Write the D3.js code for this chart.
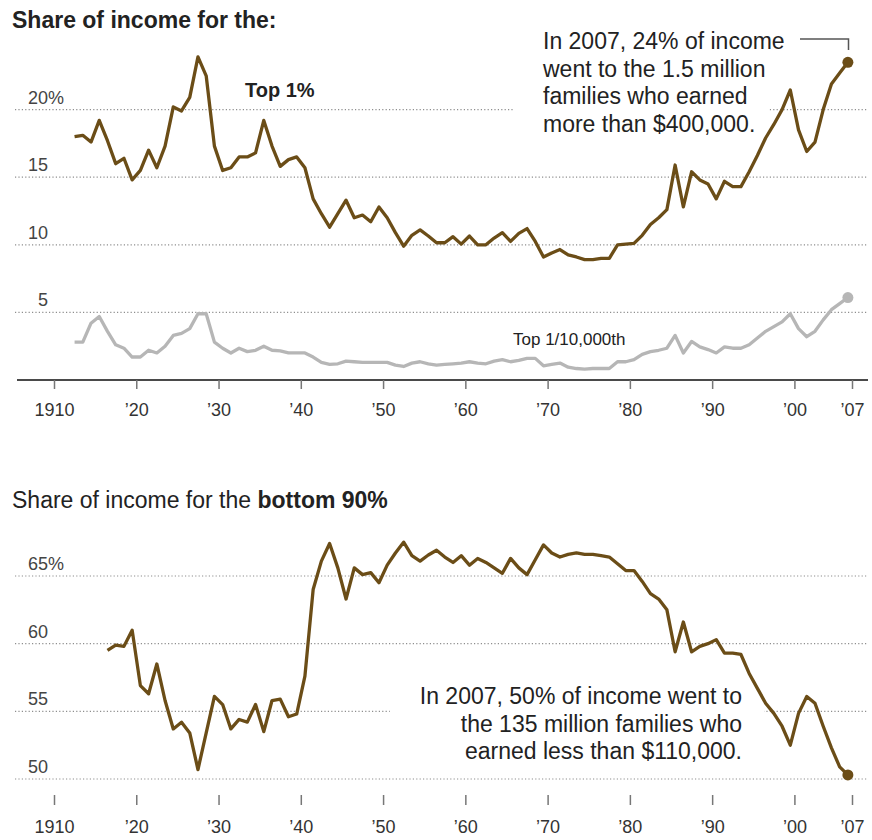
<!DOCTYPE html>
<html>
<head>
<meta charset="utf-8">
<script src="https://cdn.jsdelivr.net/npm/d3@7"></script>
<style>
  body { margin: 0; background: #fff; }
  svg { display: block; font-family: "Liberation Sans", Arial, Helvetica, sans-serif; }
</style>
</head>
<body>
<svg id="chart"></svg>
<script>
// share of income, percent, one value per year
const top1FirstYear = 1913;
const top1Values = [
  18.0, 18.1, 17.6, 19.2, 17.7, 16.0, 16.4, 14.8, 15.5, 17.0,
  15.7, 17.3, 20.2, 19.9, 20.9, 23.9, 22.5, 17.3, 15.5, 15.7,
  16.5, 16.5, 16.8, 19.2, 17.3, 15.8, 16.3, 16.5, 15.7, 13.4,
  12.3, 11.3, 12.3, 13.3, 12.0, 12.2, 11.7, 12.8, 12.0, 10.9,
  9.9, 10.7, 11.1, 10.65, 10.15, 10.15, 10.6, 10.05, 10.65, 10.0,
  10.0, 10.5, 10.9, 10.25, 10.85, 11.2, 10.25, 9.1, 9.4, 9.65,
  9.25, 9.1, 8.9, 8.9, 9.0, 9.0, 10.0, 10.05, 10.1, 10.7,
  11.5, 12.0, 12.6, 15.9, 12.8, 15.4, 14.8, 14.5, 13.4, 14.7,
  14.3, 14.3, 15.4, 16.6, 17.9, 18.9, 20.0, 21.45, 18.5, 16.9,
  17.6, 20.0, 21.9, 22.7, 23.5,
];

const topTenThousandthFirstYear = 1913;
const topTenThousandthValues = [
  2.8, 2.8, 4.2, 4.7, 3.6, 2.6, 2.35, 1.7, 1.7, 2.2,
  2.0, 2.5, 3.3, 3.45, 3.8, 4.9, 4.9, 2.8, 2.35, 2.0,
  2.35, 2.1, 2.2, 2.5, 2.2, 2.15, 2.0, 2.0, 2.0, 1.7,
  1.3, 1.15, 1.2, 1.4, 1.35, 1.3, 1.3, 1.3, 1.3, 1.1,
  1.0, 1.25, 1.35, 1.2, 1.1, 1.15, 1.2, 1.25, 1.35, 1.25,
  1.2, 1.4, 1.5, 1.35, 1.45, 1.6, 1.6, 1.05, 1.15, 1.25,
  0.95, 0.85, 0.8, 0.85, 0.85, 0.85, 1.35, 1.35, 1.5, 1.9,
  2.1, 2.2, 2.35, 3.3, 2.0, 2.85, 2.45, 2.25, 2.0, 2.45,
  2.35, 2.35, 2.6, 3.1, 3.6, 3.95, 4.3, 4.9, 3.8, 3.2,
  3.6, 4.45, 5.2, 5.65, 6.1,
];

const bottom90FirstYear = 1917;
const bottom90Values = [
  59.5, 59.9, 59.8, 61.0, 56.9, 56.3, 58.5, 55.8, 53.7, 54.2,
  53.4, 50.7, 53.4, 56.1, 55.5, 53.7, 54.4, 54.2, 55.5, 53.5,
  55.8, 55.9, 54.6, 54.8, 57.6, 64.0, 66.1, 67.4, 65.6, 63.3,
  65.6, 65.1, 65.25, 64.5, 65.8, 66.7, 67.5, 66.5, 66.1, 66.55,
  66.9, 66.4, 66.0, 66.5, 65.8, 66.3, 66.0, 65.6, 65.2, 66.3,
  65.6, 65.1, 66.2, 67.3, 66.7, 66.4, 66.6, 66.7, 66.6, 66.6,
  66.5, 66.4, 65.9, 65.4, 65.4, 64.6, 63.7, 63.3, 62.5, 59.4,
  61.6, 59.4, 59.8, 60.0, 60.3, 59.3, 59.3, 59.2, 57.8, 56.7,
  55.6, 54.85, 53.9, 52.5, 54.85, 56.1, 55.6, 53.9, 52.3, 50.9,
  50.3,
];

const xTickYears = [1910, 1920, 1930, 1940, 1950, 1960, 1970, 1980, 1990, 2000, 2007];
const xTickLabels = ["1910", "’20", "’30", "’40", "’50", "’60", "’70", "’80", "’90", "’00", "’07"];

const topYTicks = [5, 10, 15, 20];
const bottomYTicks = [50, 55, 60, 65];

const topNote = [
  "In 2007, 24% of income",
  "went to the 1.5 million",
  "families who earned",
  "more than $400,000.",
];
const bottomNote = [
  "In 2007, 50% of income went to",
  "the 135 million families who",
  "earned less than $110,000.",
];

function toPoints(firstYear, values) {
  return values.map((v, i) => {
    return { year: firstYear + i, value: v };
  });
}

const width = 872;
const height = 840;

const brown = "#6b4d17";
const lightGrey = "#b6b6b6";
const gridColor = "#8e8e8e";
const textColor = "#222";

const svg = d3.select("#chart").attr("width", width).attr("height", height);

// data sits in the middle of each year, ticks mark the year start
const x = d3.scaleLinear().domain([1910.5, 2007.5]).range([54, 852]);
const yTop = d3.scaleLinear().domain([0, 20]).range([380, 109.6]);
const yBottom = d3.scaleLinear().domain([50, 65]).range([779, 576]);

const gridLayer = svg.append("g");
const maskLayer = svg.append("g");
const lineLayer = svg.append("g");
const textLayer = svg.append("g");

function drawGrid(yScale, ticks) {
  gridLayer
    .selectAll(null)
    .data(ticks)
    .enter()
    .append("line")
    .attr("x1", 15)
    .attr("x2", 868)
    .attr("y1", (d) => yScale(d))
    .attr("y2", (d) => yScale(d))
    .attr("stroke", gridColor)
    .attr("stroke-width", 1.2)
    .attr("stroke-dasharray", "1.2,2.2");

  textLayer
    .selectAll(null)
    .data(ticks)
    .enter()
    .append("text")
    .attr("x", 48)
    .attr("y", (d) => yScale(d) - 6)
    .attr("text-anchor", "end")
    .attr("font-size", 18)
    .attr("fill", "#444")
    .text((d) => d);

  // only the top label carries the percent sign
  textLayer
    .append("text")
    .attr("x", 48)
    .attr("y", yScale(d3.max(ticks)) - 6)
    .attr("font-size", 18)
    .attr("fill", "#444")
    .text("%");
}

drawGrid(yTop, topYTicks);
drawGrid(yBottom, bottomYTicks);

// x axes
const xAxisTop = d3
  .axisBottom(x)
  .tickValues(xTickYears.map((d) => d + 0.5))
  .tickFormat((d, i) => xTickLabels[i])
  .tickSize(9)
  .tickPadding(14);

const topAxis = textLayer
  .append("g")
  .attr("transform", "translate(0,380)")
  .call(xAxisTop);

const xAxisBottom = d3
  .axisBottom(x)
  .tickValues(xTickYears.map((d) => d + 0.5))
  .tickFormat((d, i) => xTickLabels[i])
  .tickSize(10)
  .tickPadding(15);

const bottomAxis = textLayer
  .append("g")
  .attr("transform", "translate(0,795)")
  .call(xAxisBottom);

[topAxis, bottomAxis].forEach((g) => {
  g.attr("font-family", null).attr("font-size", null);
  g.select(".domain").remove();
  g.selectAll(".tick line").attr("stroke", "#777").attr("stroke-width", 1.5);
  g.selectAll(".tick text").attr("font-size", 18).attr("fill", "#333");
});

lineLayer
  .append("line")
  .attr("x1", 17)
  .attr("x2", 868)
  .attr("y1", 380)
  .attr("y2", 380)
  .attr("stroke", "#4a4a4a")
  .attr("stroke-width", 2);

// lines
function drawSeries(points, yScale, color) {
  const line = d3
    .line()
    .x((d) => x(d.year))
    .y((d) => yScale(d.value));

  lineLayer
    .append("path")
    .datum(points)
    .attr("d", line)
    .attr("fill", "none")
    .attr("stroke", color)
    .attr("stroke-width", 3.3)
    .attr("stroke-linejoin", "round");

  const last = points[points.length - 1];
  lineLayer
    .append("circle")
    .attr("cx", x(last.year))
    .attr("cy", yScale(last.value))
    .attr("r", 5.5)
    .attr("fill", color);
}

drawSeries(toPoints(topTenThousandthFirstYear, topTenThousandthValues), yTop, lightGrey);
drawSeries(toPoints(top1FirstYear, top1Values), yTop, brown);
drawSeries(toPoints(bottom90FirstYear, bottom90Values), yBottom, brown);

// titles and labels
textLayer
  .append("text")
  .attr("x", 12)
  .attr("y", 28)
  .attr("font-size", 23)
  .attr("font-weight", "bold")
  .attr("fill", textColor)
  .text("Share of income for the:");

const bottomTitle = textLayer
  .append("text")
  .attr("x", 12)
  .attr("y", 508)
  .attr("font-size", 23)
  .attr("fill", textColor)
  .text("Share of income for the ");
bottomTitle.append("tspan").attr("font-weight", "bold").text("bottom 90%");

textLayer
  .append("text")
  .attr("x", 245)
  .attr("y", 97)
  .attr("font-size", 20)
  .attr("font-weight", "bold")
  .attr("fill", textColor)
  .text("Top 1%");

textLayer
  .append("text")
  .attr("x", 513)
  .attr("y", 345)
  .attr("font-size", 17)
  .attr("fill", textColor)
  .text("Top 1/10,000th");

// notes, each line with a white backing that breaks the gridlines
function drawNote(lines, xPos, firstBaseline, anchor) {
  lines.forEach((t, i) => {
    const baseline = firstBaseline + i * 27.7;
    const txt = textLayer
      .append("text")
      .attr("x", xPos)
      .attr("y", baseline)
      .attr("text-anchor", anchor)
      .attr("font-size", 23)
      .attr("fill", textColor)
      .text(t);
    const len = txt.node().getComputedTextLength();
    const left = anchor === "end" ? xPos - len : xPos;
    maskLayer
      .append("rect")
      .attr("x", left - 30)
      .attr("y", baseline - 20)
      .attr("width", len + 52)
      .attr("height", 28)
      .attr("fill", "#fff");
  });
}

drawNote(topNote, 543, 49, "start");
drawNote(bottomNote, 742, 704, "end");

lineLayer
  .append("path")
  .attr("d", "M800,39H848.5V50")
  .attr("fill", "none")
  .attr("stroke", "#555")
  .attr("stroke-width", 1.5);
</script>
</body>
</html>
